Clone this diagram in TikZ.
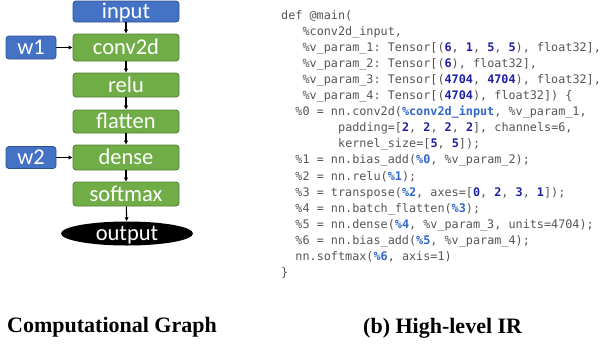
\documentclass[tikz,border=0pt]{standalone}
\usepackage{fontspec}
\usetikzlibrary{shapes.geometric,arrows.meta}
\newfontfamily\codefont{DejaVu Sans Mono}
\newfontfamily\boxfont{Carlito}
\newfontfamily\capfont{Liberation Serif}
\definecolor{opgreen}{HTML}{70AD47}
\definecolor{opgreenline}{HTML}{507E32}
\definecolor{inblue}{HTML}{4472C4}
\definecolor{inblueline}{HTML}{2F528F}
\definecolor{codegray}{HTML}{555555}
\definecolor{numblue}{HTML}{1F1FA3}
\definecolor{refblue}{HTML}{2F66C8}
% highlighted tokens in the IR listing
\newcommand\irnum[1]{{\bfseries\color{numblue}#1}}
\newcommand\irref[1]{{\bfseries\color{refblue}#1}}
\tikzset{
  opbox/.style={draw=opgreenline, fill=opgreen, line width=0.8pt, rounded corners=3pt,
    minimum width=106pt, inner sep=0pt, text=white, text height=15pt, text depth=1pt,
    font=\boxfont\fontsize{22.5}{24}\selectfont},
  inbox/.style={opbox, draw=inblueline, fill=inblue},
  outnode/.style={ellipse, fill=black, minimum width=132pt, minimum height=24pt, inner sep=0pt,
    text=white, text height=15pt, text depth=1pt, font=\boxfont\fontsize{22.5}{24}\selectfont},
  flow/.style={-{Latex[length=4pt,width=4.5pt]}, line width=1.1pt, black},
  codeline/.style={anchor=base west, inner sep=0pt, text=codegray,
    font=\codefont\fontsize{11.8}{14}\selectfont},
  captext/.style={anchor=base west, inner sep=0pt, text=black,
    font=\capfont\bfseries\fontsize{22}{24}\selectfont}
}
\begin{document}
\begin{tikzpicture}[x=1pt,y=-1pt]
\useasboundingbox (0,0) rectangle (603,346);
\frenchspacing
% computational graph
\node[inbox, minimum height=21pt] (input) at (126,11.5) {input};
\node[opbox, minimum height=27pt] (conv) at (126,47.5) {conv2d};
\node[opbox, minimum height=24pt] (relu) at (126,85) {relu};
\node[opbox, minimum height=23pt] (flat) at (126,121.5) {flatten};
\node[opbox, minimum height=25pt] (dense) at (126,157.5) {dense};
\node[opbox, minimum height=24pt] (soft) at (126,194) {softmax};
\node[outnode] (out) at (127,233.5) {output};
\node[inbox, minimum width=50pt, minimum height=23pt] (w1) at (31,47.5) {w1};
\node[inbox, minimum width=50pt, minimum height=22pt] (w2) at (31,157.5) {w2};
\draw[flow] (input) -- (conv);
\draw[flow] (conv) -- (relu);
\draw[flow] (relu) -- (flat);
\draw[flow] (flat) -- (dense);
\draw[flow] (dense) -- (soft);
\draw[flow] (soft) -- (out);
\draw[flow] (w1) -- (conv);
\draw[flow] (w2) -- (dense);
% high-level IR listing
\def\cx#1{281+#1*7.12}
\def\cy#1{19+#1*16.1}
\node[codeline] (c0) at ({\cx{0}},{\cy{0}}) {def @main(};
\node[codeline] (c1) at ({\cx{3}},{\cy{1}}) {\%conv2d\_input,};
\node[codeline] (c2) at ({\cx{3}},{\cy{2}}) {\%v\_param\_1: Tensor[(\irnum{6}, \irnum{1}, \irnum{5}, \irnum{5}), float32],};
\node[codeline] (c3) at ({\cx{3}},{\cy{3}}) {\%v\_param\_2: Tensor[(\irnum{6}), float32],};
\node[codeline] (c4) at ({\cx{3}},{\cy{4}}) {\%v\_param\_3: Tensor[(\irnum{4704}, \irnum{4704}), float32],};
\node[codeline] (c5) at ({\cx{3}},{\cy{5}}) {\%v\_param\_4: Tensor[(\irnum{4704}), float32]) \{};
\node[codeline] (c6) at ({\cx{2}},{\cy{6}}) {\%0 = nn.conv2d(\irref{\%conv2d\_input}, \%v\_param\_1,};
\node[codeline] (c7) at ({\cx{8}},{\cy{7}}) {padding=[\irnum{2}, \irnum{2}, \irnum{2}, \irnum{2}], channels=6,};
\node[codeline] (c8) at ({\cx{8}},{\cy{8}}) {kernel\_size=[\irnum{5}, \irnum{5}]);};
\node[codeline] (c9) at ({\cx{2}},{\cy{9}}) {\%1 = nn.bias\_add(\irref{\%0}, \%v\_param\_2);};
\node[codeline] (c10) at ({\cx{2}},{\cy{10}}) {\%2 = nn.relu(\irref{\%1});};
\node[codeline] (c11) at ({\cx{2}},{\cy{11}}) {\%3 = transpose(\irref{\%2}, axes=[\irnum{0}, \irnum{2}, \irnum{3}, \irnum{1}]);};
\node[codeline] (c12) at ({\cx{2}},{\cy{12}}) {\%4 = nn.batch\_flatten(\irref{\%3});};
\node[codeline] (c13) at ({\cx{2}},{\cy{13}}) {\%5 = nn.dense(\irref{\%4}, \%v\_param\_3, units=4704);};
\node[codeline] (c14) at ({\cx{2}},{\cy{14}}) {\%6 = nn.bias\_add(\irref{\%5}, \%v\_param\_4);};
\node[codeline] (c15) at ({\cx{2}},{\cy{15}}) {nn.softmax(\irref{\%6}, axis=1)};
\node[codeline] (c16) at ({\cx{0}},{\cy{16}}) {\}};
% captions
\node[captext] (capa) at (7,332) {Computational Graph};
\node[captext] (capb) at (363,333) {(b) High-level IR};
\end{tikzpicture}
\end{document}
